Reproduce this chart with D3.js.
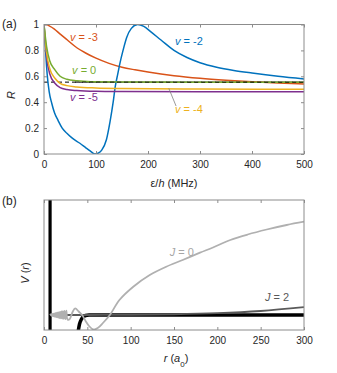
<!DOCTYPE html>
<html lang="en">
<head>
    <meta charset="UTF-8">
    <title>R vs energy and V(r)</title>
    <script src="https://d3js.org/d3.v7.min.js"></script>
    <style>
        body { margin: 0; background: #fff; }
        text { font-family: "Liberation Sans", Arial, sans-serif; }
    </style>
</head>
<body>
    <svg id="chart" width="337" height="373"></svg>

    <script>
        // panel (a): R against eps/h (MHz)
        const aTicksX = [0, 100, 200, 300, 400, 500];
        const aTicksY = [0, 0.2, 0.4, 0.6, 0.8, 1];
        const dashedR = 0.555;

        const vMinus2 = [[0,1],[3,0.8],[6,0.62],[10,0.48],[15,0.39],[20,0.32],[27,0.26],[35,0.2],[44,0.16],[55,0.12],
            [69,0.083],[80,0.05],[88,0.026],[98,0],[105,0.008],[111,0.03],[120,0.11],[127,0.25],[133,0.4],[137,0.52],
            [142,0.62],[146,0.7],[152,0.8],[159,0.9],[168,0.97],[180,1.0],[192,0.985],[205,0.945],[225,0.88],
            [250,0.8],[275,0.745],[300,0.705],[332,0.67],[365,0.645],[400,0.625],[450,0.6],[500,0.58]];
        const vMinus3 = [[0,1],[5,1.0],[10,0.99],[20,0.965],[30,0.93],[45,0.88],[60,0.83],[80,0.78],[100,0.74],
            [125,0.7],[150,0.67],[175,0.65],[200,0.633],[250,0.605],[300,0.585],[350,0.57],[400,0.558],[450,0.548],[500,0.54]];
        const vZero = [[0,1],[5,0.83],[11,0.72],[21,0.65],[31,0.6],[44,0.577],[63,0.565],[90,0.558],[150,0.556],[300,0.555],[500,0.555]];
        const vMinus4 = [[0,1],[5,0.78],[11,0.66],[21,0.585],[31,0.546],[44,0.528],[63,0.518],[100,0.51],[150,0.506],[300,0.502],[500,0.5]];
        const vMinus5 = [[0,1],[5,0.75],[11,0.62],[21,0.546],[31,0.512],[44,0.498],[63,0.49],[100,0.484],[150,0.482],[300,0.48],[500,0.48]];
        const leader = [[240,0.507],[254,0.37]];

        // panel (b): V(r) against r (a0)
        const bTicksX = [0, 50, 100, 150, 200, 250, 300];
        const wallR = 7;
        const wellCurve = [[39.5,-1.6],[41,-0.9],[43,-0.45],[45,-0.2],[48,-0.05],[52,0],[300,0]];
        const jZero = [[7,0],[7.6,0.05],[8.2,-0.06],[8.8,0.08],[9.4,-0.09],[10,0.11],[10.6,-0.12],[11.2,0.14],
            [11.8,-0.15],[12.4,0.17],[13,-0.18],[13.6,0.2],[14.2,-0.21],[14.8,0.23],[15.4,-0.24],[16,0.26],
            [16.7,-0.27],[17.4,0.29],[18.1,-0.3],[18.8,0.32],[19.5,-0.33],[20.3,0.35],[21.1,-0.36],[21.9,0.38],
            [22.8,-0.39],[23.7,0.41],[24.7,-0.42],[25.8,0.44],[27.2,-0.45],[29.5,-0.43],[33,0.3],[36,0.67],[40,0.35],
            [44,0],[48,-0.6],[52,-1.1],[57,-1.45],[62,-1.3],[68,-0.8],
            [76,0],[87,1.5],[103,2.83],[122,4.0],[141,4.83],[160,5.5],[180,6.23],[195,6.75],[215,7.5],[235,8.05],
            [257,8.55],[280,9.0],[300,9.33]];
        const jTwo = [[7,0],[50,0],[100,0.02],[150,0.07],[200,0.18],[250,0.4],[300,0.78]];

        const svg = d3.select("#chart");
        const boxColor = "#8c8c8c";
        const textColor = "#262626";

        function frame(g, x, y, w, h, xTicks, yTicks) {
            const bottom = g.append("g").attr("transform", "translate(0," + h + ")")
                .call(d3.axisBottom(x).tickValues(xTicks).tickSizeInner(-3).tickSizeOuter(0).tickPadding(7));
            const top = g.append("g")
                .call(d3.axisTop(x).tickValues(xTicks).tickSizeInner(-3).tickSizeOuter(0).tickFormat(""));
            const axes = [bottom, top];
            if (yTicks) {
                axes.push(g.append("g")
                    .call(d3.axisLeft(y).tickValues(yTicks).tickSizeInner(-3).tickSizeOuter(0).tickPadding(5)
                        .tickFormat(d => d3.format("~g")(d))));
                axes.push(g.append("g").attr("transform", "translate(" + w + ",0)")
                    .call(d3.axisRight(y).tickValues(yTicks).tickSizeInner(-3).tickSizeOuter(0).tickFormat("")));
            }
            axes.forEach(a => {
                a.select(".domain").remove();
                a.selectAll("line").attr("stroke", boxColor);
                a.selectAll("text").attr("fill", textColor).style("font-size", "10px")
                    .style("font-family", "'Liberation Sans', Arial, sans-serif");
            });
            g.append("rect").attr("width", w).attr("height", h)
                .attr("fill", "none").attr("stroke", boxColor).attr("stroke-width", 1);
        }

        // ---------- panel (a)
        const aw = 260, ah = 129.5;
        const ga = svg.append("g").attr("transform", "translate(44,24.5)");
        const xa = d3.scaleLinear().domain([0, 500]).range([0, aw]);
        const ya = d3.scaleLinear().domain([0, 1]).range([ah, 0]);
        const lineA = d3.line().x(d => xa(d[0])).y(d => ya(d[1])).curve(d3.curveMonotoneX);

        ga.append("clipPath").attr("id", "clipA").append("rect").attr("width", aw).attr("height", ah);
        const plotA = ga.append("g").attr("clip-path", "url(#clipA)");

        plotA.append("line")
            .attr("x1", xa(0)).attr("x2", xa(500)).attr("y1", ya(dashedR)).attr("y2", ya(dashedR))
            .attr("stroke", "#000").attr("stroke-width", 1).attr("stroke-dasharray", "4,3");

        const seriesA = [
            { data: vMinus3, color: "#D95319" },
            { data: vMinus2, color: "#0072BD" },
            { data: vMinus5, color: "#7E2F8E" },
            { data: vMinus4, color: "#EDB120" },
            { data: vZero, color: "#77AC30" }
        ];
        seriesA.forEach(s => {
            plotA.append("path").datum(s.data).attr("d", lineA)
                .attr("fill", "none").attr("stroke", s.color).attr("stroke-width", 1.5);
        });
        // dashed line tail again, over the green curve
        plotA.append("line")
            .attr("x1", xa(60)).attr("x2", xa(500)).attr("y1", ya(dashedR)).attr("y2", ya(dashedR))
            .attr("stroke", "#000").attr("stroke-width", 1).attr("stroke-dasharray", "4,3");

        ga.append("path").datum(leader).attr("d", d3.line().x(d => xa(d[0])).y(d => ya(d[1])))
            .attr("stroke", "#808080").attr("stroke-width", 0.8).attr("fill", "none");

        frame(ga, xa, ya, aw, ah, aTicksX, aTicksY);

        const vLabels = [
            { t: " = -3", x: 50, y: 0.87, c: "#D95319" },
            { t: " = -2", x: 252, y: 0.84, c: "#0072BD" },
            { t: " = 0", x: 54, y: 0.62, c: "#77AC30" },
            { t: " = -5", x: 50, y: 0.41, c: "#7E2F8E" },
            { t: " = -4", x: 252, y: 0.32, c: "#EDB120" }
        ];
        vLabels.forEach(l => {
            const t = ga.append("text").attr("x", xa(l.x)).attr("y", ya(l.y))
                .attr("fill", l.c).style("font-size", "11px");
            t.append("tspan").style("font-style", "italic").text("v");
            t.append("tspan").text(l.t);
        });

        const xlabA = svg.append("text").attr("x", 174).attr("y", 187)
            .attr("text-anchor", "middle").attr("fill", textColor).style("font-size", "11px");
        xlabA.append("tspan").text("ε/");
        xlabA.append("tspan").style("font-style", "italic").text("h");
        xlabA.append("tspan").text(" (MHz)");

        svg.append("text").attr("transform", "translate(15,95) rotate(-90)")
            .attr("text-anchor", "middle").attr("fill", textColor)
            .style("font-size", "11px").style("font-style", "italic").text("R");

        svg.append("text").attr("x", 2).attr("y", 28).attr("fill", textColor)
            .style("font-size", "12px").text("(a)");

        // ---------- panel (b)
        const bw = 260, bh = 130;
        const gb = svg.append("g").attr("transform", "translate(44,200)");
        const xb = d3.scaleLinear().domain([0, 300]).range([0, bw]);
        const yb = d3.scaleLinear().domain([-1.5, 11.5]).range([bh, 0]);
        const lineB = d3.line().x(d => xb(d[0])).y(d => yb(d[1]));

        gb.append("clipPath").attr("id", "clipB").append("rect").attr("width", bw).attr("height", bh);
        const plotB = gb.append("g").attr("clip-path", "url(#clipB)");

        plotB.append("line").attr("x1", xb(wallR)).attr("x2", xb(wallR)).attr("y1", 0).attr("y2", bh)
            .attr("stroke", "#000").attr("stroke-width", 3.2);
        plotB.append("path").datum(wellCurve).attr("d", lineB.curve(d3.curveMonotoneX))
            .attr("fill", "none").attr("stroke", "#000").attr("stroke-width", 3.5);
        plotB.append("path").datum(jTwo).attr("d", lineB.curve(d3.curveMonotoneX))
            .attr("fill", "none").attr("stroke", "#5a5a5a").attr("stroke-width", 1.8);
        plotB.append("path").datum(jZero).attr("d", lineB.curve(d3.curveCatmullRom))
            .attr("fill", "none").attr("stroke", "#b0b0b0").attr("stroke-width", 1.8);

        frame(gb, xb, yb, bw, bh, bTicksX, null);

        const j0 = gb.append("text").attr("x", xb(145)).attr("y", yb(5.9))
            .attr("fill", "#a6a6a6").style("font-size", "11px");
        j0.append("tspan").style("font-style", "italic").text("J");
        j0.append("tspan").text(" = 0");
        const j2 = gb.append("text").attr("x", xb(255)).attr("y", yb(1.4))
            .attr("fill", "#595959").style("font-size", "11px");
        j2.append("tspan").style("font-style", "italic").text("J");
        j2.append("tspan").text(" = 2");

        const xlabB = svg.append("text").attr("x", 176).attr("y", 362)
            .attr("text-anchor", "middle").attr("fill", textColor).style("font-size", "11px");
        xlabB.append("tspan").style("font-style", "italic").text("r");
        xlabB.append("tspan").text(" (");
        xlabB.append("tspan").style("font-style", "italic").text("a");
        xlabB.append("tspan").attr("baseline-shift", "sub").style("font-size", "8px").text("0");
        xlabB.append("tspan").text(")");

        const ylabB = svg.append("text").attr("transform", "translate(29,273) rotate(-90)")
            .attr("text-anchor", "middle").attr("fill", textColor).style("font-size", "11px");
        ylabB.append("tspan").style("font-style", "italic").text("V");
        ylabB.append("tspan").text(" (");
        ylabB.append("tspan").style("font-style", "italic").text("r");
        ylabB.append("tspan").text(")");

        svg.append("text").attr("x", 2).attr("y", 205).attr("fill", textColor)
            .style("font-size", "12px").text("(b)");
    </script>
</body>
</html>
